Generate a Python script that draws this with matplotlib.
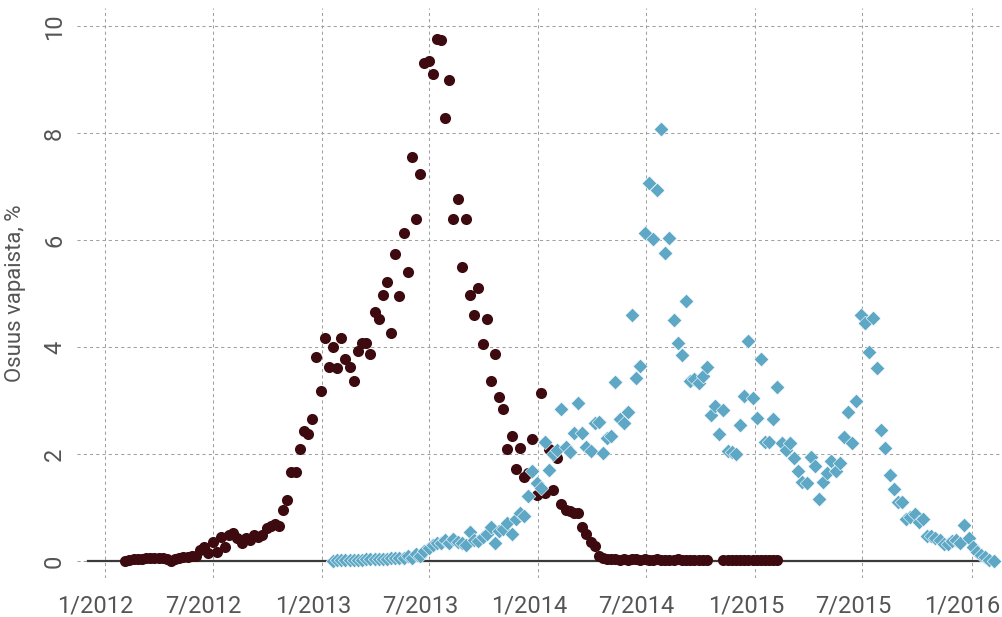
import numpy as np
import pandas as pd
import matplotlib
matplotlib.use('Agg')
import matplotlib.pyplot as plt
import matplotlib.dates as mdates
import matplotlib.transforms as mtransforms
from matplotlib.ticker import FuncFormatter

nan = np.nan

# weekly series, first week of each series
maroon_start = '2012-02-05'
blue_start = '2013-01-20'

maroon_values = [
    0.00, 0.02, 0.03, 0.03, 0.04, 0.05, 0.05, 0.06, 0.06, 0.05,
    0.04, 0.00, 0.03, 0.06, 0.08, 0.08, 0.10, 0.10, 0.20, 0.27,
    0.15, 0.35, 0.17, 0.45, 0.27, 0.49, 0.52, 0.43, 0.34, 0.43,
    0.40, 0.49, 0.45, 0.49, 0.62, 0.65, 0.70, 0.65, 0.95, 1.14,
    1.67, 1.67, 2.10, 2.43, 2.37, 2.65, 3.81, 3.18, 4.17, 3.63,
    4.00, 3.60, 4.17, 3.78, 3.63, 3.36, 3.92, 4.07, 4.07, 3.87,
    4.65, 4.52, 4.97, 5.21, 4.26, 5.74, 4.95, 6.13, 5.40, 7.55,
    6.39, 7.23, 9.31, 9.35, 9.10, 9.76, 9.74, 8.28, 9.00, 6.39,
    6.77, 5.50, 6.39, 4.97, 4.60, 5.10, 4.06, 4.52, 3.36, 3.87,
    3.07, 2.84, 2.09, 2.34, 1.72, 2.11, 1.57, 1.64, 2.28, 1.23,
    3.14, 1.27, 2.10, 1.33, 1.93, 1.07, 0.95, 0.93, 0.90, 0.90,
    0.64, 0.50, 0.35, 0.29, 0.10, 0.05, 0.04, 0.03, 0.04, 0.02,
    0.03, 0.02, 0.04, 0.03, 0.02, 0.03, 0.02, 0.02, 0.03, 0.02,
    0.01, 0.02, 0.02, 0.03, 0.02, 0.01, 0.02, 0.02, 0.01, 0.02,
    0.02, nan, nan, nan, 0.01, 0.02, 0.01, 0.02, 0.01, 0.02,
    0.01, 0.02, 0.02, 0.01, 0.02, 0.01, 0.01, 0.01,
]

blue_values = [
    0.00, 0.01, 0.01, 0.01, 0.02, 0.02, 0.02, 0.02, 0.03, 0.03,
    0.03, 0.03, 0.04, 0.04, 0.05, 0.05, 0.06, 0.05, 0.10, 0.06,
    0.14, 0.10, 0.19, 0.24, 0.30, 0.33, 0.33, 0.39, 0.33, 0.41,
    0.35, 0.33, 0.30, 0.55, 0.40, 0.38, 0.45, 0.50, 0.64, 0.33,
    0.56, 0.60, 0.71, 0.50, 0.78, 0.90, 0.84, 1.21, 1.68, 1.46,
    1.36, 2.22, 1.70, 2.00, 2.07, 2.84, 2.13, 2.04, 2.39, 2.95,
    2.39, 2.13, 2.06, 2.58, 2.60, 2.02, 2.30, 2.34, 3.35, 2.65,
    2.58, 2.79, 4.60, 3.42, 3.64, 6.13, 7.07, 6.02, 6.93, 8.07,
    5.76, 6.04, 4.50, 4.07, 3.85, 4.86, 3.36, 3.40, 3.33, 3.46,
    3.63, 2.73, 2.90, 2.37, 2.82, 2.06, 2.04, 2.00, 2.54, 3.08,
    4.11, 3.05, 2.67, 3.78, 2.22, 2.22, 2.65, 3.25, 2.20, 2.07,
    2.20, 1.93, 1.68, 1.48, 1.46, 1.94, 1.78, 1.16, 1.48, 1.64,
    1.87, 1.68, 1.83, 2.32, 2.78, 2.20, 2.99, 4.60, 4.45, 3.91,
    4.54, 3.61, 2.45, 2.11, 1.61, 1.35, 1.10, 1.10, 0.79, 0.82,
    0.88, 0.73, 0.79, 0.47, 0.47, 0.43, 0.39, 0.32, 0.32, 0.37,
    0.39, 0.34, 0.67, 0.43, 0.26, 0.17, 0.11, 0.07, 0.02, 0.00,
]

x_ticks = ['2012-01-01', '2012-07-01', '2013-01-01', '2013-07-01', '2014-01-01',
           '2014-07-01', '2015-01-01', '2015-07-01', '2016-01-01']
y_ticks = [0, 2, 4, 6, 8, 10]
y_label = 'Osuus vapaista, %'

maroon_dates = pd.date_range(maroon_start, periods=len(maroon_values), freq='7D')
blue_dates = pd.date_range(blue_start, periods=len(blue_values), freq='7D')

plt.rcParams['font.family'] = ['Roboto', 'DejaVu Sans']

fig = plt.figure(figsize=(10.03, 6.17), dpi=100)
ax = fig.add_axes([0.077, 0.063, 0.923, 0.924])

ax.scatter(maroon_dates, maroon_values, s=64, marker='o', color='#3d0b0f',
           linewidths=0, zorder=3)
ax.scatter(blue_dates, blue_values, s=56, marker='D', color='#5ea8c6',
           edgecolors='white', linewidths=0.4, zorder=4)

ax.axhline(0, xmin=0.012, xmax=0.978, color='#3a3a3a', linewidth=1.6, zorder=2)

ax.set_xlim(pd.Timestamp('2011-11-16'), pd.Timestamp('2016-02-23'))
ax.set_ylim(-0.32, 10.34)
ax.set_yticks(y_ticks)
ax.set_xticks(pd.to_datetime(x_ticks))
ax.xaxis.set_major_formatter(FuncFormatter(
    lambda v, pos: f"{mdates.num2date(v).month}/{mdates.num2date(v).year}"))

ax.grid(True, linestyle=(0, (3, 3)), color='#a0a0a0', linewidth=0.75, zorder=0)
ax.set_axisbelow(True)
for s in ax.spines.values():
    s.set_visible(False)

ax.tick_params(length=0, labelsize=17, colors='#555555')
ax.tick_params(axis='x', pad=12)
ax.tick_params(axis='y', pad=8)
plt.setp(ax.get_yticklabels(), rotation=90, va='center')

# x labels sit a little left of their gridlines in the original
shift = mtransforms.ScaledTranslation(-9 / 100, 0, fig.dpi_scale_trans)
for lab in ax.xaxis.get_majorticklabels():
    lab.set_transform(lab.get_transform() + shift)

ax.set_ylabel(y_label, fontsize=16, color='#555555')
ax.yaxis.set_label_coords(-0.055, 0.5)

plt.savefig('out.png', dpi=100)
